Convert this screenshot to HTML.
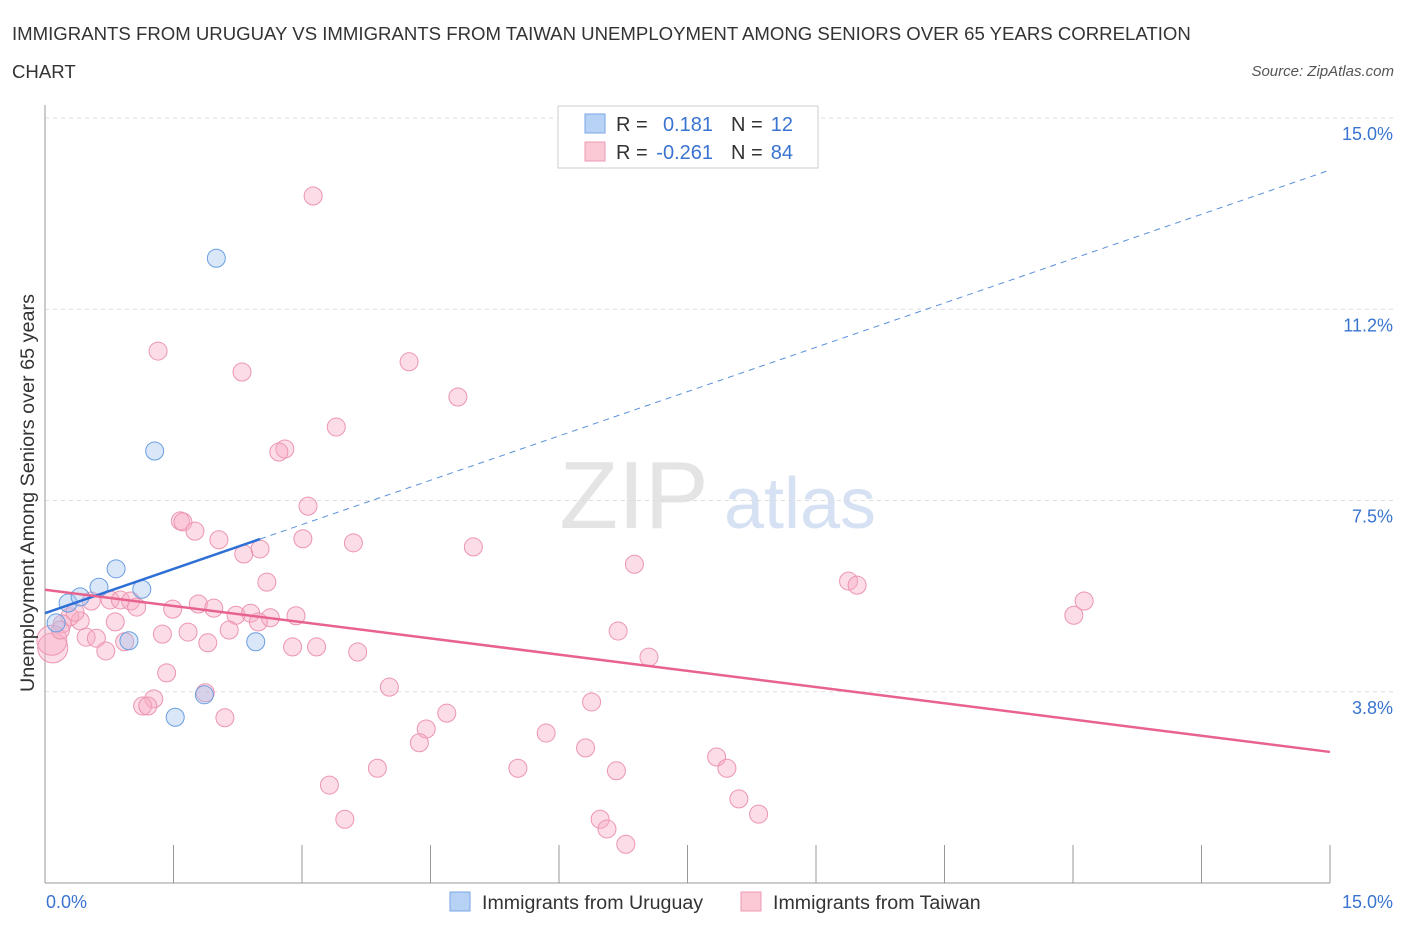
<!DOCTYPE html>
<html><head><meta charset="utf-8"><style>
body{margin:0;background:#fff;font-family:"Liberation Sans",sans-serif;}
svg text{font-family:"Liberation Sans",sans-serif;}
</style></head><body>
<svg id="chart" width="1406" height="930" xmlns="http://www.w3.org/2000/svg">
<text x="12" y="40" font-size="18.6" fill="#333">IMMIGRANTS FROM URUGUAY VS IMMIGRANTS FROM TAIWAN UNEMPLOYMENT AMONG SENIORS OVER 65 YEARS CORRELATION</text>
<text x="12" y="78" font-size="18.6" fill="#333">CHART</text>
<text x="1394" y="76" font-size="15" fill="#555" font-style="italic" text-anchor="end">Source: ZipAtlas.com</text>
<text x="634" y="528" font-size="96" fill="#e4e4e4" font-family="Liberation Serif" text-anchor="middle">ZIP</text>
<text x="800" y="528" font-size="72" fill="#d6e2f3" text-anchor="middle">atlas</text>
<g id="grid"></g>
<g id="axes"></g>
<g id="marks"></g>
<text transform="translate(34,493) rotate(-90)" font-size="19.8" fill="#333" text-anchor="middle">Unemployment Among Seniors over 65 years</text>
<g>
<rect x="558" y="106" width="260" height="62" fill="#fff" stroke="#ccc"/>
<rect x="585" y="114" width="20" height="19" fill="#b8d2f5" stroke="#7aa6e6"/>
<rect x="585" y="142" width="20" height="19" fill="#fbc8d6" stroke="#ee9ab2"/>
<text x="616" y="131" font-size="20" fill="#333">R =</text>
<text x="713" y="131" font-size="20" fill="#3a74d0" text-anchor="end">0.181</text>
<text x="731" y="131" font-size="20" fill="#333">N =</text>
<text x="793" y="131" font-size="20" fill="#3a74d0" text-anchor="end">12</text>
<text x="616" y="159" font-size="20" fill="#333">R =</text>
<text x="713" y="159" font-size="20" fill="#3a74d0" text-anchor="end">-0.261</text>
<text x="731" y="159" font-size="20" fill="#333">N =</text>
<text x="793" y="159" font-size="20" fill="#3a74d0" text-anchor="end">84</text>
</g>
<g>
<rect x="450" y="892" width="20" height="19" fill="#b8d2f5" stroke="#7aa6e6"/>
<text x="482" y="909" font-size="19.6" fill="#333">Immigrants from Uruguay</text>
<rect x="741" y="892" width="20" height="19" fill="#fbc8d6" stroke="#ee9ab2"/>
<text x="773" y="909" font-size="19.6" fill="#333">Immigrants from Taiwan</text>
</g>
</svg>
<script>
const yTicks=[3.75,7.5,11.25,15];
const yTickLabels=["3.8%","7.5%","11.2%","15.0%"];
const xTickLabels=["0.0%","15.0%"];
const uruguayX=[2.00,1.28,0.83,0.63,1.13,0.27,0.41,0.13,0.98,2.46,1.86,1.52];
const uruguayY=[12.25,8.47,6.16,5.80,5.76,5.49,5.61,5.10,4.75,4.73,3.69,3.25];
const taiwanX=[3.13,1.32,4.25,2.30,4.82,3.40,2.80,2.73,3.07,1.58,1.61,1.75,2.03,3.01,2.51,2.32,3.60,5.00,6.88,2.59,9.38,9.48,12.13,12.01,0.76,0.88,1.00,1.07,0.54,1.49,1.79,1.97,2.23,2.40,2.63,2.93,2.49,2.15,0.82,0.41,0.29,0.20,1.37,1.67,1.90,2.89,3.17,0.48,0.60,0.93,3.65,0.71,6.69,7.05,1.42,4.02,1.27,1.14,1.20,1.87,2.10,4.69,4.45,4.37,6.38,5.85,6.31,7.84,7.96,3.88,5.52,6.67,3.32,8.10,6.48,6.56,3.50,8.33,6.78,0.09,0.08,0.18,0.35];
const taiwanY=[13.47,10.43,10.22,10.02,9.53,8.94,8.51,8.45,7.39,7.10,7.08,6.90,6.73,6.75,6.55,6.45,6.67,6.59,6.25,5.90,5.92,5.84,5.53,5.25,5.55,5.55,5.53,5.41,5.53,5.37,5.47,5.39,5.25,5.29,5.20,5.24,5.12,4.96,5.12,5.14,5.22,5.08,4.88,4.92,4.71,4.63,4.63,4.82,4.80,4.73,4.53,4.55,4.94,4.43,4.12,3.84,3.61,3.47,3.47,3.73,3.24,3.33,3.02,2.75,3.55,2.94,2.65,2.47,2.25,2.25,2.25,2.20,1.92,1.65,1.25,1.06,1.25,1.35,0.76,4.61,4.76,4.96,5.31];
const uruguayTrend=[5.29,13.98];
const taiwanTrend=[5.75,2.57];
const NS="http://www.w3.org/2000/svg";
const X0=45,X1=1330,Y0=883,Y1=118;
function sx(v){return X0+(v/15)*(X1-X0);}
function sy(v){return Y0-(v/15)*(Y0-Y1);}
function mk(tag,attrs,parent){const e=document.createElementNS(NS,tag);for(const k in attrs)e.setAttribute(k,attrs[k]);parent.appendChild(e);return e;}
const grid=document.getElementById('grid'),axes=document.getElementById('axes'),marks=document.getElementById('marks');
yTicks.forEach((t,i)=>{
  const l=mk('line',{x1:X0,x2:1394,y1:sy(t),y2:sy(t),stroke:'#ddd','stroke-dasharray':'4,4'},grid);
  
  
  const tx=mk('text',{x:1393,y:sy(t)+22,'font-size':18,fill:'#3a74d0','text-anchor':'end'},axes);
  tx.textContent=yTickLabels[i];
  
  
});
const ax=mk('line',{x1:X0,x2:X1,y1:Y0,y2:Y0,stroke:'#999'},axes);


const ay=mk('line',{x1:X0,x2:X0,y1:105,y2:Y0,stroke:'#999'},axes);


for(let i=0;i<=10;i++){
  const t=mk('line',{x1:sx(i*1.5),x2:sx(i*1.5),y1:Y0,y2:Y0-38,stroke:'#999'},axes);
  
  
}
[[0,'start',46],[15,'end',1393]].forEach((p,i)=>{
  const tx=mk('text',{x:p[2],y:908,'font-size':18,fill:'#3a74d0','text-anchor':p[1]},axes);
  tx.textContent=xTickLabels[i];
  
  
});
taiwanX.forEach((x,i)=>{
  const r=(i>=79&&i<=80)?15:9;
  const c=mk('circle',{cx:sx(x),cy:sy(taiwanY[i]),r:r,fill:'rgba(248,170,195,0.4)',stroke:'#ec95b0','stroke-width':1},marks);
  
  
});
uruguayX.forEach((x,i)=>{
  const c=mk('circle',{cx:sx(x),cy:sy(uruguayY[i]),r:9,fill:'rgba(160,196,240,0.4)',stroke:'#6a9ee0','stroke-width':1},marks);
  
  
});
const ub=(uruguayTrend[1]-uruguayTrend[0])/15,solidEnd=2.51;
const ud=mk('line',{x1:sx(solidEnd),y1:sy(uruguayTrend[0]+ub*solidEnd),x2:sx(15),y2:sy(uruguayTrend[1]),stroke:'#5a8fdc','stroke-width':1,'stroke-dasharray':'6,5'},marks);


const us=mk('line',{x1:sx(0),y1:sy(uruguayTrend[0]),x2:sx(solidEnd),y2:sy(uruguayTrend[0]+ub*solidEnd),stroke:'#2e6fd6','stroke-width':2.5},marks);


const tl=mk('line',{x1:sx(0),y1:sy(taiwanTrend[0]),x2:sx(15),y2:sy(taiwanTrend[1]),stroke:'#e8628e','stroke-width':2.5},marks);


</script>
</body></html>
